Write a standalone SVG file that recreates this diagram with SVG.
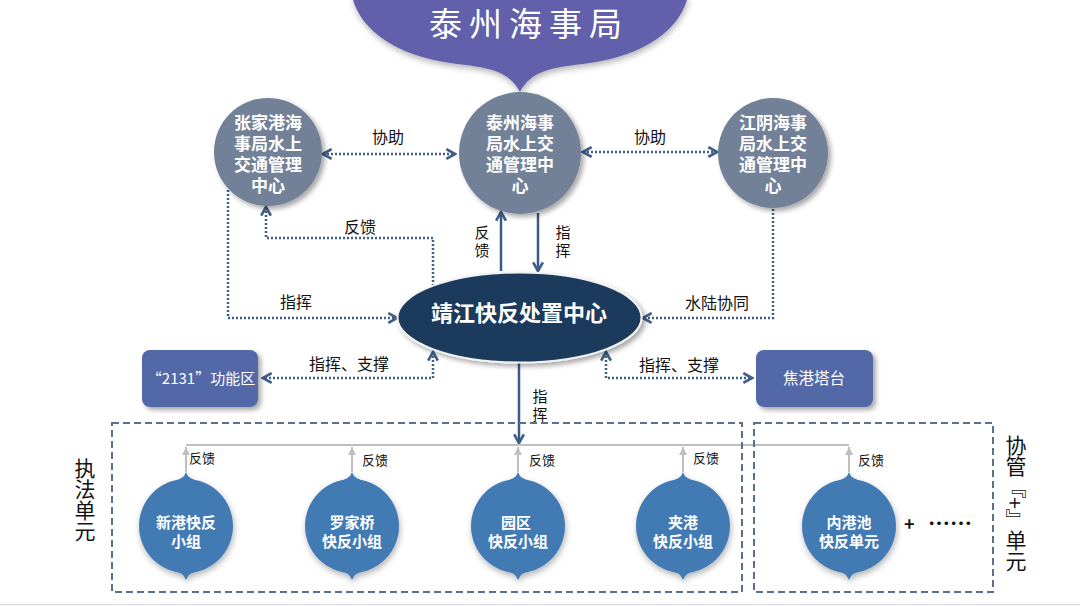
<svg xmlns="http://www.w3.org/2000/svg" xmlns:xlink="http://www.w3.org/1999/xlink" width="1080" height="606" viewBox="0 0 1080 606">
<style>
text{font-family:"Noto Sans CJK SC","Liberation Sans",sans-serif}
.gc{fill:#738198}
.gt{fill:#fff;font-size:17px;font-weight:bold;text-anchor:middle}
.bt{fill:#fff;font-size:15px;font-weight:bold;text-anchor:middle}
.lbl{fill:#111;font-size:16px;text-anchor:middle}
.vl{fill:#111;font-size:15px;text-anchor:middle}
.sm{fill:#111;font-size:13px}
.dot{fill:none;stroke:#3F5E88;stroke-width:2.5;stroke-dasharray:2 2}
.sol{fill:none;stroke:#3B5B86;stroke-width:2.5}
.gray{fill:none;stroke:#BFBFBF;stroke-width:2}
.box{fill:#5367A7}
.bc{fill:#437AB3}
.dash{fill:none;stroke:#58718F;stroke-width:2;stroke-dasharray:7 4}
.vt{fill:#111;font-size:21px;writing-mode:vertical-rl;text-anchor:middle}
</style>
<defs>
<filter id="sh" x="-30%" y="-30%" width="170%" height="170%"><feDropShadow dx="3" dy="3" stdDeviation="2.5" flood-color="#000" flood-opacity="0.35"/></filter>
<filter id="sh2" x="-30%" y="-30%" width="170%" height="170%"><feDropShadow dx="1" dy="3" stdDeviation="3" flood-color="#000" flood-opacity="0.3"/></filter>
<marker id="ch" viewBox="0 0 12 12" refX="10" refY="6" markerWidth="13" markerHeight="13" markerUnits="userSpaceOnUse" orient="auto-start-reverse"><path d="M2,1.5 L10,6 L2,10.5" fill="none" stroke="#3F5E88" stroke-width="2.5" stroke-dasharray="none"/></marker>
<marker id="ga" viewBox="0 0 10 10" refX="10" refY="5" markerWidth="8" markerHeight="8" markerUnits="userSpaceOnUse" orient="auto"><path d="M0,0 L10,5 L0,10 Z" fill="#BFBFBF"/></marker>
<g id="drop">
<circle cx="0" cy="0" r="47"/>
<path d="M-16,-44.2 Q-2,-46 0,-54 Q2,-46 16,-44.2 Z"/>
<path d="M-16,44.2 Q-2,46 0,54 Q2,46 16,44.2 Z"/>
</g>
</defs>
<rect x="0" y="0" width="1080" height="606" fill="#fff"/>
<line x1="0" y1="604.5" x2="1080" y2="604.5" stroke="#DDDDDD" stroke-width="1.5"/>

<g id="taizhou-msa">
<path d="M353,-5 L353,0 C362,30 395,55 450,63 C490,68 508,70 520,92 C532,70 550,68 590,63 C645,55 678,30 687,0 L687,-5 Z" fill="#6460AB" filter="url(#sh2)"/>
<text x="529" y="36" fill="#fff" font-size="33" letter-spacing="7" text-anchor="middle">泰州海事局</text>
</g>

<g id="connectors">
<line class="dot" x1="323" y1="154" x2="455" y2="154" marker-start="url(#ch)" marker-end="url(#ch)"/>
<line class="dot" x1="583" y1="152" x2="717" y2="152" marker-start="url(#ch)" marker-end="url(#ch)"/>
<polyline class="dot" points="433,286 433,238 266,238 266,207" marker-end="url(#ch)"/>
<polyline class="dot" points="228,190 228,318 397,318" marker-end="url(#ch)"/>
<line class="sol" x1="501" y1="271" x2="501" y2="212" marker-end="url(#ch)"/>
<line class="sol" x1="538" y1="213" x2="538" y2="271" marker-end="url(#ch)"/>
<polyline class="dot" points="773,209 773,318 643,318" marker-end="url(#ch)"/>
<polyline class="dot" points="433,352 433,378 263,378" marker-start="url(#ch)" marker-end="url(#ch)"/>
<polyline class="dot" points="606,352 606,378 752,378" marker-start="url(#ch)" marker-end="url(#ch)"/>
<line class="sol" x1="519" y1="363" x2="519" y2="443" marker-end="url(#ch)"/>
<line class="gray" x1="186" y1="445" x2="849" y2="445"/>
<line class="gray" x1="186" y1="472" x2="186" y2="447" marker-end="url(#ga)"/>
<line class="gray" x1="352" y1="472" x2="352" y2="447" marker-end="url(#ga)"/>
<line class="gray" x1="518" y1="472" x2="518" y2="447" marker-end="url(#ga)"/>
<line class="gray" x1="683" y1="472" x2="683" y2="447" marker-end="url(#ga)"/>
<line class="gray" x1="849" y1="472" x2="849" y2="447" marker-end="url(#ga)"/>
<text class="lbl" x="388" y="143">协助</text>
<text class="lbl" x="650" y="143">协助</text>
<text class="lbl" x="360" y="233">反馈</text>
<text class="lbl" x="296" y="308">指挥</text>
<text class="vl" x="482" y="238">反</text>
<text class="vl" x="482" y="256">馈</text>
<text class="vl" x="563" y="238">指</text>
<text class="vl" x="563" y="256">挥</text>
<text class="lbl" x="717" y="309" font-size="17">水陆协同</text>
<text class="lbl" x="349" y="370" font-size="17">指挥、支撑</text>
<text class="lbl" x="679" y="371" font-size="17">指挥、支撑</text>
<text class="vl" x="540" y="402" font-size="16">指</text>
<text class="vl" x="540" y="420" font-size="16">挥</text>
<text class="sm" x="189" y="463">反馈</text>
<text class="sm" x="362" y="465">反馈</text>
<text class="sm" x="529" y="465">反馈</text>
<text class="sm" x="693" y="463">反馈</text>
<text class="sm" x="858" y="465">反馈</text>
</g>

<g id="zhangjiagang">
<circle class="gc" cx="268" cy="152" r="54" filter="url(#sh)"/>
<text class="gt" x="268" y="129">张家港海</text>
<text class="gt" x="268" y="150">事局水上</text>
<text class="gt" x="268" y="171">交通管理</text>
<text class="gt" x="268" y="192">中心</text>
</g>
<g id="taizhou-vts">
<circle class="gc" cx="520" cy="153" r="61" filter="url(#sh)"/>
<text class="gt" x="520" y="129">泰州海事</text>
<text class="gt" x="520" y="150">局水上交</text>
<text class="gt" x="520" y="171">通管理中</text>
<text class="gt" x="520" y="192">心</text>
</g>
<g id="jiangyin">
<circle class="gc" cx="773" cy="153" r="55" filter="url(#sh)"/>
<text class="gt" x="773" y="129">江阴海事</text>
<text class="gt" x="773" y="150">局水上交</text>
<text class="gt" x="773" y="171">通管理中</text>
<text class="gt" x="773" y="192">心</text>
</g>

<g id="jingjiang-center">
<ellipse cx="519.5" cy="317.5" rx="122" ry="45" fill="#1F3A5B" stroke="#F2F2F2" stroke-width="2" filter="url(#sh)"/>
<text x="519" y="321" fill="#fff" font-size="22" font-weight="bold" text-anchor="middle">靖江快反处置中心</text>
</g>

<g id="zone-2131">
<rect class="box" x="142" y="350" width="116" height="57" rx="8" filter="url(#sh)"/>
<text x="201" y="384" fill="#fff" font-size="15" text-anchor="middle">“2131”功能区</text>
</g>
<g id="jiaogang-tower">
<rect class="box" x="756" y="350" width="117" height="57" rx="8" filter="url(#sh)"/>
<text x="814" y="384" fill="#fff" font-size="15.5" text-anchor="middle">焦港塔台</text>
</g>

<g id="law-unit">
<rect class="dash" x="112" y="423" width="630" height="169"/>
<text class="vt" x="85" y="500">执法单元</text>
</g>
<g id="assist-unit">
<rect class="dash" x="754" y="423" width="239" height="169"/>
<text class="vt" x="1016" y="503">协管『+』单元</text>
<text x="904" y="531" fill="#111" font-size="18" font-weight="bold">+</text>
<text x="928" y="531" fill="#111" font-size="22" font-weight="bold">……</text>
</g>

<g id="xingang">
<use href="#drop" x="186" y="526" class="bc" filter="url(#sh2)"/>
<text class="bt" x="186" y="527.5">新港快反</text>
<text class="bt" x="186" y="546.5">小组</text>
</g>
<g id="luojiaqiao">
<use href="#drop" x="352" y="526" class="bc" filter="url(#sh2)"/>
<text class="bt" x="352" y="527.5">罗家桥</text>
<text class="bt" x="352" y="546.5">快反小组</text>
</g>
<g id="yuanqu">
<use href="#drop" x="518" y="526" class="bc" filter="url(#sh2)"/>
<text class="bt" x="516" y="527.5">园区</text>
<text class="bt" x="518" y="546.5">快反小组</text>
</g>
<g id="jiagang">
<use href="#drop" x="683" y="526" class="bc" filter="url(#sh2)"/>
<text class="bt" x="683" y="527.5">夹港</text>
<text class="bt" x="683" y="546.5">快反小组</text>
</g>
<g id="neigangchi">
<use href="#drop" x="849" y="526" class="bc" filter="url(#sh2)"/>
<text class="bt" x="849" y="527.5">内港池</text>
<text class="bt" x="849" y="546.5">快反单元</text>
</g>
</svg>
